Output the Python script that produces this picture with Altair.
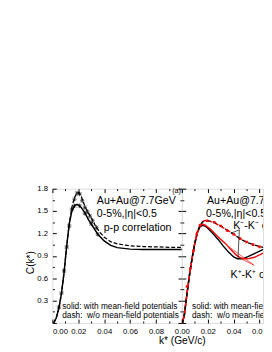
import altair as alt
import pandas as pd

FONT = "Liberation Sans"
RED = "#ee1111"

# ---------------- panel (a): p-p correlation ----------------
pp_k_solid = [0.001, 0.003, 0.005, 0.007, 0.009, 0.011, 0.013, 0.015, 0.017, 0.019, 0.021, 0.023,
              0.025, 0.028, 0.031, 0.035, 0.040, 0.045, 0.050, 0.060, 0.070, 0.080, 0.090, 0.100]
pp_c_solid = [0.00, 0.07, 0.20, 0.40, 0.68, 1.03, 1.33, 1.50, 1.57, 1.59, 1.57, 1.53,
              1.48, 1.38, 1.30, 1.19, 1.10, 1.04, 1.01, 0.99, 0.985, 0.985, 0.985, 0.985]
pp_k_dash = [0.001, 0.003, 0.005, 0.007, 0.009, 0.011, 0.013, 0.015, 0.017, 0.019, 0.0205, 0.022,
             0.024, 0.026, 0.028, 0.030, 0.033, 0.036, 0.040, 0.045, 0.050, 0.060, 0.070, 0.080,
             0.090, 0.100]
pp_c_dash = [0.00, 0.07, 0.20, 0.40, 0.68, 1.03, 1.33, 1.55, 1.68, 1.74, 1.745, 1.71,
             1.61, 1.53, 1.47, 1.41, 1.31, 1.23, 1.15, 1.09, 1.06, 1.035, 1.025, 1.02,
             1.015, 1.015]
pp_pts_k = [0.005, 0.007, 0.009, 0.011, 0.013, 0.015, 0.017, 0.019, 0.021, 0.023, 0.025, 0.027,
            0.029, 0.031, 0.034, 0.017, 0.021, 0.025, 0.030, 0.035]
pp_pts_c = [0.21, 0.40, 0.70, 1.02, 1.30, 1.52, 1.66, 1.74, 1.73, 1.64, 1.55, 1.49,
            1.43, 1.37, 1.28, 1.57, 1.57, 1.47, 1.33, 1.19]
pp_pts_err = [0.03, 0.03, 0.03, 0.03, 0.03, 0.03, 0.03, 0.03, 0.03, 0.03, 0.03, 0.03,
              0.03, 0.03, 0.03, 0.03, 0.03, 0.03, 0.03, 0.03]

# ---------------- panel (b): K-K correlation ----------------
kk_k_black_solid = [0.0005, 0.002, 0.004, 0.006, 0.008, 0.010, 0.012, 0.014, 0.016, 0.018, 0.020,
                    0.024, 0.028, 0.032, 0.036, 0.040, 0.043, 0.047, 0.051, 0.056, 0.062, 0.070]
kk_c_black_solid = [0.00, 0.12, 0.40, 0.66, 0.88, 1.07, 1.21, 1.29, 1.31, 1.30, 1.27,
                    1.20, 1.12, 1.03, 0.95, 0.885, 0.86, 0.86, 0.89, 0.93, 0.98, 1.00]
kk_k_red_solid = [0.0005, 0.002, 0.004, 0.006, 0.008, 0.010, 0.012, 0.015, 0.018, 0.022, 0.026,
                  0.030, 0.034, 0.038, 0.042, 0.045, 0.048, 0.052, 0.056, 0.062, 0.070]
kk_c_red_solid = [0.00, 0.12, 0.40, 0.66, 0.88, 1.07, 1.22, 1.33, 1.31, 1.26, 1.19,
                  1.12, 1.06, 0.98, 0.91, 0.875, 0.86, 0.865, 0.88, 0.93, 0.97]
kk_k_dash = [0.0005, 0.002, 0.004, 0.006, 0.008, 0.010, 0.012, 0.014, 0.016, 0.018, 0.020, 0.024,
             0.028, 0.032, 0.036, 0.040, 0.044, 0.048, 0.052, 0.056, 0.060, 0.065, 0.070]
kk_c_black_dash = [0.00, 0.12, 0.40, 0.66, 0.88, 1.07, 1.22, 1.31, 1.355, 1.37, 1.37, 1.355,
                   1.32, 1.28, 1.23, 1.19, 1.14, 1.10, 1.07, 1.045, 1.025, 1.005, 0.995]
kk_c_red_dash = [0.00, 0.12, 0.41, 0.67, 0.89, 1.08, 1.23, 1.32, 1.36, 1.375, 1.37, 1.35,
                 1.315, 1.275, 1.235, 1.19, 1.145, 1.105, 1.07, 1.045, 1.025, 1.01, 1.00]
kk_pts_k = [0.004, 0.0065, 0.009, 0.0115, 0.014, 0.0195, 0.025, 0.030, 0.035, 0.040, 0.045,
            0.050, 0.055, 0.060]
kk_pts_c = [0.49, 0.73, 0.97, 1.19, 1.31, 1.37, 1.35, 1.30, 1.24, 1.19, 1.13, 1.085, 1.05, 1.02]

# annotation pointer lines (data coordinates)
black_ptr_k = [0.0444, 0.0444]
black_ptr_c = [1.249, 1.249]
black_ptr_k2 = [0.0383, 0.0433]
black_ptr_c2 = [1.206, 0.86]
red_ptr_k = [0.0556, 0.0556]
red_ptr_c = [0.776, 0.776]
red_ptr_k2 = [0.0358, 0.0458]
red_ptr_c2 = [1.03, 0.86]

# texts
left_text_k = [0.0343, 0.0343, 0.0396, 0.0075, 0.0075]
left_text_c = [1.594, 1.415, 1.23, 0.19, 0.067]
left_text = ["Au+Au@7.7GeV", "0-5%,|\u03b7|<0.5", "p-p correlation",
             "solid: with mean-field potentials", "dash:\u00a0 w/o mean-field potentials"]
left_text_fs = [11.0, 11.0, 11.0, 8.6, 8.6]
right_text_k = [0.0194, 0.0187, 0.0396, 0.0375, 0.0078, 0.0078]
right_text_c = [1.594, 1.415, 1.257, 0.604, 0.19, 0.067]
right_text = ["Au+Au@7.7GeV", "0-5%,|\u03b7|<0.5", "K\u207b-K\u207b correlation",
              "K\u207a-K\u207a correlation", "solid: with mean-field potentials",
              "dash:\u00a0 w/o mean-field potentials"]
right_text_fs = [11.0, 11.0, 11.0, 11.0, 8.6, 8.6]

x_ticks_left = [0.0, 0.01, 0.02, 0.03, 0.04, 0.05, 0.06, 0.07, 0.08, 0.09, 0.10]
x_ticks_right = [0.0, 0.01, 0.02, 0.03, 0.04, 0.05, 0.06]
y_ticks = [0.0, 0.15, 0.3, 0.45, 0.6, 0.75, 0.9, 1.05, 1.2, 1.35, 1.5, 1.65, 1.8]

W_LEFT, W_RIGHT, H = 134, 84, 139
X_DOM_LEFT = [0.0, 0.1]
X_DOM_RIGHT = [0.0, 0.1 * W_RIGHT / W_LEFT]

XMINOR = "abs(datum.value*50 - round(datum.value*50)) > 0.01"
YMINOR = "abs(datum.value/0.3 - round(datum.value/0.3)) > 0.01"


def tick_axis(orient, values, minor_test, **kw):
    return alt.Axis(orient=orient, values=values, domain=False, grid=False, offset=-4,
                    tickSize=4, tickColor="black", tickWidth=1,
                    tickDash={"condition": {"test": minor_test, "value": [0, 2, 2]},
                              "value": [4, 0]},
                    labelOverlap=False, labelColor="black", labelFontSize=8,
                    labelFont=FONT, titleFont=FONT, titleColor="black",
                    titleFontWeight="normal", **kw)


def xs(dom, axis, field="k"):
    return alt.X(f"{field}:Q", scale=alt.Scale(domain=dom, nice=False, zero=False), axis=axis)


def ys(axis, field="c"):
    return alt.Y(f"{field}:Q", scale=alt.Scale(domain=[0, 1.8], nice=False, zero=False), axis=axis)


def frame(k, c):
    return pd.DataFrame({"k": k, "c": c})


# ---------------- left panel ----------------
x_bottom_left = tick_axis(
    "bottom", x_ticks_left, XMINOR,
    labelExpr="(abs(datum.value*50 - round(datum.value*50)) < 0.01 && datum.value < 0.099) ? format(datum.value, '.2f') : ''",
    labelPadding=5, title="k* (GeV/c)", titleX=134, titleY=22, titleAlign="center",
    titleBaseline="middle", titleFontSize=10.5)
y_left = tick_axis(
    "left", y_ticks, YMINOR,
    labelExpr="(abs(datum.value/0.3 - round(datum.value/0.3)) < 0.01 && datum.value > 0.01) ? format(datum.value, '.1f') : ''",
    labelPadding=5, title="C(k*)", titleX=-26.5, titleY=76, titleAngle=270,
    titleAlign="center", titleBaseline="middle", titleFontSize=10.5)

l_solid = alt.Chart(frame(pp_k_solid, pp_c_solid)).mark_line(
    color="black", strokeWidth=1.5, clip=True).encode(
    x=xs(X_DOM_LEFT, x_bottom_left), y=ys(y_left))
l_dash = alt.Chart(frame(pp_k_dash, pp_c_dash)).mark_line(
    color="black", strokeWidth=1.3, strokeDash=[4, 2], clip=True).encode(
    x=xs(X_DOM_LEFT, None), y=ys(None))

pts = pd.DataFrame({"k": pp_pts_k, "c": pp_pts_c,
                    "lo": [c - e for c, e in zip(pp_pts_c, pp_pts_err)],
                    "hi": [c + e for c, e in zip(pp_pts_c, pp_pts_err)]})
l_err = alt.Chart(pts).mark_rule(color="black", strokeWidth=0.8, clip=True).encode(
    x=xs(X_DOM_LEFT, None), y=ys(None, "lo"), y2="hi:Q")
STAR = "M-1,-1L1,1M-1,1L1,-1M-1.2,0L1.2,0"
l_pts = alt.Chart(pts).mark_point(shape=STAR, filled=False, color="black", strokeWidth=0.8,
                                  size=14, clip=True).encode(
    x=xs(X_DOM_LEFT, None), y=ys(None))

ltxt = pd.DataFrame({"k": left_text_k, "c": left_text_c, "label": left_text, "fs": left_text_fs})
l_text = alt.Chart(ltxt).mark_text(align="left", baseline="alphabetic", font=FONT,
                                   color="black", clip=True).encode(
    x=xs(X_DOM_LEFT, tick_axis("top", x_ticks_left, XMINOR, labels=False, title=None)),
    y=ys(tick_axis("right", y_ticks, YMINOR, labels=False, title=None)),
    text="label:N", size=alt.Size("fs:Q", scale=None))
l_tag = alt.Chart(pd.DataFrame({"k": [0.0993], "c": [1.738], "label": ["(a)"]})).mark_text(
    align="right", baseline="alphabetic", font=FONT, fontSize=7.5, color="black").encode(
    x=xs(X_DOM_LEFT, None), y=ys(None), text="label:N")

left = alt.layer(l_solid, l_dash, l_err, l_pts, l_text, l_tag).resolve_axis(
    x="independent", y="independent").properties(width=W_LEFT, height=H)

# ---------------- right panel ----------------
x_bottom_right = tick_axis(
    "bottom", x_ticks_right, XMINOR,
    labelExpr="datum.value > 0.055 ? '0.0' : (abs(datum.value*50 - round(datum.value*50)) < 0.01 ? format(datum.value, '.2f') : '')",
    labelAlign={"condition": {"test": "datum.value > 0.055", "value": "left"}, "value": "center"},
    labelOffset={"condition": {"test": "datum.value > 0.055", "value": -8.4}, "value": 0},
    labelPadding=5, title=None)
y_right_panel = tick_axis("left", y_ticks, YMINOR, labels=False, title=None)

r_black_solid = alt.Chart(frame(kk_k_black_solid, kk_c_black_solid)).mark_line(
    color="black", strokeWidth=1.5, clip=True).encode(
    x=xs(X_DOM_RIGHT, x_bottom_right), y=ys(y_right_panel))
r_red_solid = alt.Chart(frame(kk_k_red_solid, kk_c_red_solid)).mark_line(
    color=RED, strokeWidth=1.5, clip=True).encode(x=xs(X_DOM_RIGHT, None), y=ys(None))
r_black_dash = alt.Chart(frame(kk_k_dash, kk_c_black_dash)).mark_line(
    color="black", strokeWidth=1.5, strokeDash=[4, 3], clip=True).encode(
    x=xs(X_DOM_RIGHT, None), y=ys(None))
r_red_dash = alt.Chart(frame(kk_k_dash, kk_c_red_dash)).mark_line(
    color=RED, strokeWidth=1.5, strokeDash=[3, 4], strokeDashOffset=3.5, clip=True).encode(
    x=xs(X_DOM_RIGHT, None), y=ys(None))
r_pts = alt.Chart(frame(kk_pts_k, kk_pts_c)).mark_point(
    shape="square", filled=True, color=RED, size=7, opacity=1, clip=True).encode(
    x=xs(X_DOM_RIGHT, None), y=ys(None))

bptr = pd.DataFrame({"k": black_ptr_k, "c": black_ptr_c, "k2": black_ptr_k2, "c2": black_ptr_c2})
rptr = pd.DataFrame({"k": red_ptr_k, "c": red_ptr_c, "k2": red_ptr_k2, "c2": red_ptr_c2})
r_bptr = alt.Chart(bptr).mark_rule(color="black", strokeWidth=0.7, clip=True).encode(
    x=xs(X_DOM_RIGHT, None), y=ys(None), x2="k2:Q", y2="c2:Q")
r_rptr = alt.Chart(rptr).mark_rule(color=RED, strokeWidth=0.7, clip=True).encode(
    x=xs(X_DOM_RIGHT, None), y=ys(None), x2="k2:Q", y2="c2:Q")

rtxt = pd.DataFrame({"k": right_text_k, "c": right_text_c, "label": right_text, "fs": right_text_fs})
r_text = alt.Chart(rtxt).mark_text(align="left", baseline="alphabetic", font=FONT,
                                   color="black", clip=True).encode(
    x=xs(X_DOM_RIGHT, tick_axis("top", x_ticks_right, XMINOR, labels=False, title=None)),
    y=ys(None), text="label:N", size=alt.Size("fs:Q", scale=None))

right = alt.layer(r_black_solid, r_red_solid, r_black_dash, r_red_dash, r_pts,
                  r_bptr, r_rptr, r_text).resolve_axis(
    x="independent", y="independent").properties(width=W_RIGHT, height=H)

chart = alt.hconcat(left, right, spacing=0, bounds="flush").properties(
    padding={"left": 18, "top": 176, "right": 0, "bottom": 0}
).configure_view(stroke="black", strokeWidth=1).configure(font=FONT)

chart.save("out.html", embed_options={"renderer": "svg", "actions": False})
